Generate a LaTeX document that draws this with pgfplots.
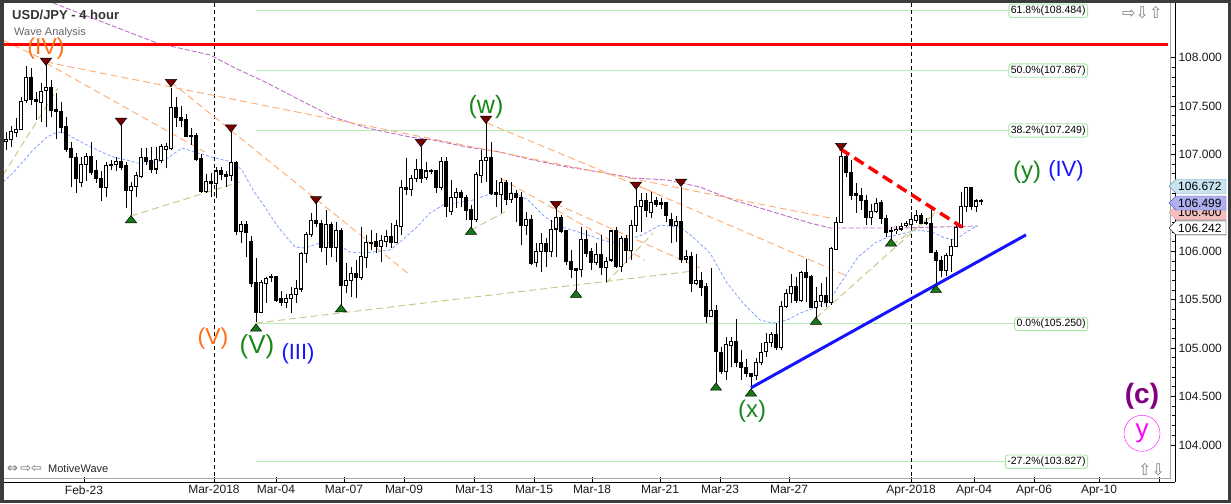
\documentclass[border=0pt]{standalone}
\usepackage{fontspec}
\setmainfont{Liberation Sans}
\newfontfamily\dejavu{DejaVu Sans}
\usepackage{pgfplots}
\pgfplotsset{compat=1.18}
\usepackage{pgfplotstable}

\definecolor{mworange}{RGB}{255,110,20}
\definecolor{mwgreen}{RGB}{25,135,25}
\definecolor{mwblue}{RGB}{20,20,255}
\definecolor{mwpurple}{RGB}{128,0,128}
\definecolor{mwmagenta}{RGB}{255,0,255}
\definecolor{fibgreen}{RGB}{180,238,180}
\definecolor{maline}{RGB}{130,160,255}
\definecolor{purpma}{RGB}{190,110,200}
\definecolor{trendor}{RGB}{255,170,110}
\definecolor{trendol}{RGB}{200,195,130}
\definecolor{topred}{RGB}{120,0,0}
\definecolor{botgreen}{RGB}{20,120,20}
\definecolor{framegray}{RGB}{60,60,60}
\newcommand{\fs}[1]{\fontsize{#1}{#1}\selectfont}

% 4-hour candles: x = bar position, o h l c
\pgfplotstableread{
x o h l c
6 107.13 107.23 107.05 107.16
11 107.15 107.29 107.08 107.24
16 107.23 107.38 107.18 107.26
21 107.26 107.59 107.25 107.55
26 107.56 107.91 107.53 107.80
31 107.80 107.89 107.51 107.57
36 107.57 107.65 107.36 107.55
41 107.54 107.74 107.34 107.65
46 107.66 107.92 107.28 107.69
51 107.69 107.77 107.39 107.45
56 107.46 107.64 107.16 107.44
61 107.44 107.54 107.22 107.28
66 107.29 107.39 107.03 107.05
71 107.06 107.13 106.66 106.97
76 106.97 107.02 106.60 106.75
81 106.71 106.97 106.66 106.90
86 106.90 107.02 106.73 106.98
91 106.98 107.13 106.79 106.81
96 106.84 106.94 106.71 106.75
101 106.75 106.83 106.52 106.66
106 106.66 106.92 106.56 106.89
111 106.90 106.94 106.84 106.89
116 106.90 106.97 106.83 106.93
121 106.93 107.30 106.84 106.87
126 106.89 106.92 106.45 106.63
131 106.63 106.72 106.37 106.67
136 106.67 106.82 106.56 106.78
141 106.77 107.07 106.76 106.97
146 106.97 107.07 106.89 106.93
151 106.94 107.08 106.81 106.85
156 106.85 107.08 106.80 106.95
161 106.94 107.11 106.91 107.08
166 107.05 107.12 106.86 107.08
171 107.06 107.69 107.05 107.49
176 107.49 107.59 107.28 107.38
181 107.38 107.50 107.28 107.35
186 107.36 107.42 107.18 107.19
191 107.20 107.27 107.10 107.19
196 107.20 107.22 106.93 106.95
201 106.96 107.01 106.60 106.62
206 106.62 106.80 106.60 106.72
211 106.72 106.81 106.56 106.70
216 106.70 106.87 106.55 106.83
221 106.83 106.87 106.74 106.79
226 106.79 106.83 106.66 106.77
231 106.78 107.23 106.73 106.92
236 106.92 106.93 106.17 106.20
241 106.20 106.31 106.09 106.28
246 106.28 106.31 105.94 106.19
251 106.10 106.16 105.63 105.67
256 105.68 105.93 105.27 105.37
261 105.37 105.70 105.36 105.68
266 105.67 105.73 105.47 105.72
271 105.74 105.77 105.68 105.73
276 105.74 105.74 105.48 105.49
281 105.51 105.59 105.44 105.47
286 105.47 105.56 105.41 105.51
291 105.51 105.63 105.36 105.55
296 105.55 105.70 105.47 105.62
301 105.61 105.99 105.58 105.98
306 105.98 106.20 105.88 106.17
311 106.17 106.40 106.15 106.32
316 106.32 106.50 106.25 106.29
321 106.29 106.32 105.99 106.04
326 106.04 106.43 105.86 106.28
331 106.28 106.30 105.94 106.04
336 106.04 106.30 105.89 106.22
341 106.22 106.24 105.45 105.65
346 105.65 105.88 105.57 105.70
351 105.70 105.84 105.53 105.77
356 105.77 105.91 105.52 105.73
361 105.73 106.25 105.70 105.95
366 105.94 106.17 105.83 106.09
371 106.09 106.22 106.01 106.08
376 106.10 106.19 105.98 106.05
381 106.05 106.17 105.89 106.11
386 106.10 106.22 106.04 106.15
391 106.15 106.29 106.03 106.09
396 106.09 106.32 106.09 106.27
401 106.26 106.74 106.17 106.66
406 106.66 106.96 106.58 106.64
411 106.64 106.79 106.57 106.75
416 106.75 106.95 106.72 106.85
421 106.85 107.08 106.71 106.75
426 106.76 106.92 106.74 106.83
431 106.83 106.85 106.80 106.82
436 106.83 106.84 106.60 106.66
441 106.66 106.97 106.63 106.93
446 106.93 106.97 106.35 106.46
451 106.41 106.74 106.37 106.56
456 106.56 106.65 106.45 106.61
461 106.61 106.63 106.46 106.56
466 106.56 106.58 106.32 106.42
471 106.43 106.48 106.24 106.33
476 106.33 106.82 106.30 106.79
481 106.78 107.05 106.71 106.94
486 106.94 107.35 106.72 106.97
491 106.97 107.13 106.58 106.60
496 106.61 106.74 106.46 106.59
501 106.59 106.76 106.40 106.71
506 106.71 106.74 106.48 106.53
511 106.53 106.72 106.50 106.60
516 106.60 106.63 106.30 106.56
521 106.56 106.61 106.07 106.27
526 106.27 106.41 106.17 106.33
531 106.33 106.37 105.86 105.87
536 105.88 106.09 105.84 106.00
541 106.00 106.19 105.79 106.08
546 106.08 106.14 105.84 106.00
551 106.00 106.32 105.94 106.23
556 106.23 106.46 105.94 106.35
561 106.35 106.37 106.19 106.20
566 106.22 106.22 105.86 105.89
571 105.89 106.01 105.72 105.81
576 105.82 105.82 105.60 105.80
581 105.81 106.25 105.73 106.12
586 106.12 106.22 105.94 105.98
591 106.00 106.03 105.81 105.88
596 105.88 106.09 105.86 105.97
601 105.97 106.17 105.76 105.83
606 105.83 105.94 105.68 105.90
611 105.91 106.22 105.89 106.21
616 106.21 106.25 105.83 105.84
621 105.84 106.16 105.79 106.13
626 106.13 106.17 105.88 106.01
631 106.01 106.32 105.91 106.27
636 106.27 106.65 106.20 106.46
641 106.46 106.60 106.20 106.53
646 106.53 106.60 106.35 106.42
651 106.40 106.61 106.34 106.50
656 106.53 106.56 106.46 106.48
661 106.50 106.55 106.44 106.48
666 106.50 106.51 106.30 106.37
671 106.33 106.40 106.09 106.27
676 106.27 106.36 106.10 106.31
681 106.31 106.66 105.88 105.92
686 105.92 106.01 105.88 105.95
691 105.95 105.99 105.58 105.67
696 105.67 105.97 105.65 105.70
701 105.70 105.79 105.54 105.63
706 105.64 105.67 105.26 105.33
711 105.33 105.83 105.32 105.39
716 105.39 105.45 104.64 104.96
721 104.96 105.01 104.73 104.76
726 104.76 105.11 104.67 105.04
731 105.03 105.11 104.80 105.07
736 105.07 105.30 104.80 104.85
741 104.85 104.98 104.67 104.80
746 104.80 104.89 104.70 104.74
751 104.74 104.74 104.58 104.71
756 104.72 104.90 104.67 104.85
761 104.85 105.05 104.83 104.96
766 104.96 105.16 104.91 105.06
771 105.06 105.17 105.01 105.14
776 105.14 105.26 104.98 105.01
781 105.01 105.49 104.98 105.43
786 105.43 105.61 105.41 105.56
791 105.56 105.77 105.47 105.64
796 105.64 105.73 105.47 105.49
801 105.49 105.80 105.48 105.78
806 105.78 105.92 105.48 105.73
811 105.74 105.76 105.41 105.42
816 105.42 105.63 105.31 105.48
821 105.48 105.67 105.42 105.54
826 105.54 105.73 105.42 105.47
831 105.47 106.04 105.45 106.03
836 106.02 106.35 106.01 106.30
841 106.30 107.07 106.29 106.98
846 106.98 107.02 106.77 106.81
851 106.81 106.94 106.53 106.58
856 106.60 106.71 106.40 106.58
861 106.58 106.65 106.43 106.52
866 106.53 106.58 106.27 106.35
871 106.35 106.49 106.27 106.41
876 106.41 106.55 106.40 106.49
881 106.50 106.53 106.28 106.34
886 106.34 106.37 106.15 106.19
891 106.21 106.25 106.12 106.20
896 106.21 106.26 106.18 106.23
901 106.23 106.29 106.21 106.26
906 106.27 106.31 106.25 106.29
911 106.28 106.41 106.22 106.33
916 106.32 106.43 106.29 106.37
921 106.37 106.40 106.28 106.29
926 106.30 106.34 106.27 106.29
931 106.29 106.45 105.98 105.99
936 105.99 106.01 105.66 105.90
941 105.91 105.95 105.73 105.80
946 105.80 105.98 105.74 105.96
951 105.96 106.13 105.79 106.05
956 106.05 106.27 106.04 106.25
961 106.25 106.61 106.25 106.46
966 106.46 106.66 106.41 106.66
971 106.66 106.66 106.43 106.46
976 106.46 106.54 106.41 106.52
981 106.52 106.54 106.48 106.51
}\candles

\begin{document}
\begin{tikzpicture}
\begin{axis}[
  width=1172pt, height=479pt, scale only axis,
  xmin=3, xmax=1175, ymin=103.617, ymax=108.565,
  axis x line*=bottom, axis y line*=right,
  axis line style={-, black, line width=1pt},
  clip=false,
  tick align=inside,
  major tick length=5pt, minor tick length=3pt,
  tick style={black, line width=0.8pt},
  xtick={84,214,276,344,404,474,534,592,660,720,789,911,974,1034,1099,1159},
  xticklabels={Feb-23,Mar-2018,Mar-04,Mar-07,Mar-09,Mar-13,Mar-15,Mar-18,Mar-21,Mar-23,Mar-27,Apr-2018,Apr-04,Apr-06,Apr-10,{}},
  ytick={104,104.5,...,108},
  minor y tick num=4,
  /pgf/number format/assume math mode=true,
  tick label style={font=\fs{12}, text=black!90},
  yticklabel style={/pgf/number format/.cd, fixed, fixed zerofill, precision=3},
]
\coordinate (bbTL) at (axis cs:0,108.596);
\coordinate (bbBR) at (axis cs:1231,103.400);

% fibonacci levels
\addplot[fibgreen, line width=1.1pt] coordinates {(256,108.484)(1088,108.484)};
\addplot[fibgreen, line width=1.1pt] coordinates {(256,107.867)(1088,107.867)};
\addplot[fibgreen, line width=1.1pt] coordinates {(256,107.249)(1088,107.249)};
\addplot[fibgreen, line width=1.1pt] coordinates {(256,105.250)(1088,105.250)};
\addplot[fibgreen, line width=1.1pt] coordinates {(256,103.827)(1088,103.827)};

% month separators
\addplot[black, line width=0.8pt, dash pattern=on 4pt off 3pt] coordinates {(214,108.565)(214,103.617)};
\addplot[black, line width=0.8pt, dash pattern=on 4pt off 3pt] coordinates {(911,108.565)(911,103.617)};

% moving averages
\addplot[purpma, line width=0.9pt, dash pattern=on 5pt off 2pt] coordinates {
(53,108.565)(157,108.152)(210,108.028)(233,107.904)(267,107.739)(300,107.563)(333,107.387)
(367,107.274)(410,107.181)(433,107.150)(467,107.077)(500,107.026)(533,106.943)(567,106.871)
(600,106.819)(633,106.757)(667,106.737)(700,106.664)(733,106.530)(767,106.426)(810,106.292)
(830,106.241)(900,106.241)(978,106.261)};
\addplot[maline, line width=0.8pt, dash pattern=on 3pt off 2pt] coordinates {
(3,106.716)(13,106.809)(33,107.046)(47,107.181)(58,107.232)(65,107.222)(77,107.150)(93,107.067)
(113,106.974)(127,106.943)(137,106.912)(150,106.912)(165,106.943)(182,107.067)(198,107.015)
(215,106.964)(232,106.922)(242,106.840)(253,106.633)(265,106.457)(278,106.251)(295,106.044)
(305,106.034)(322,106.096)(335,106.086)(350,105.993)(363,105.982)(390,106.013)(400,106.096)
(417,106.251)(430,106.395)(443,106.478)(457,106.499)(473,106.530)(487,106.581)(500,106.602)
(515,106.602)(528,106.530)(545,106.354)(562,106.251)(572,106.220)(588,106.168)(602,106.117)
(615,106.086)(628,106.117)(642,106.168)(660,106.271)(680,106.251)(693,106.148)(710,105.982)
(727,105.672)(743,105.466)(760,105.290)(773,105.259)(787,105.290)(800,105.362)(817,105.424)
(830,105.497)(838,105.631)(858,105.941)(875,106.086)(888,106.148)(905,106.189)(918,106.220)
(932,106.199)(945,106.137)(955,106.117)(965,106.189)(975,106.251)};

% trend lines
\addplot[trendor, line width=0.9pt, dash pattern=on 7pt off 4pt] coordinates {(3,108.18)(46,107.97)};
\addplot[trendor, line width=0.9pt, dash pattern=on 7pt off 4pt] coordinates {(46,107.955)(830,106.344)};
\addplot[trendor, line width=0.9pt, dash pattern=on 7pt off 4pt] coordinates {(46,107.945)(205,107.025)};
\addplot[trendor, line width=0.9pt, dash pattern=on 7pt off 4pt] coordinates {(171,107.749)(410,105.755)};
\addplot[trendor, line width=0.9pt, dash pattern=on 7pt off 4pt] coordinates {(487,107.325)(660,106.581)};
\addplot[trendor, line width=0.9pt, dash pattern=on 7pt off 4pt] coordinates {(500,106.756)(645,105.910)};
\addplot[trendor, line width=0.9pt, dash pattern=on 7pt off 4pt] coordinates {(556,106.489)(700,105.827)};
\addplot[trendor, line width=0.9pt, dash pattern=on 7pt off 4pt] coordinates {(636,106.685)(845,105.755)};
\addplot[trendol, line width=0.9pt, dash pattern=on 7pt off 4pt] coordinates {(3,106.788)(58,107.687)};
\addplot[trendol, line width=0.9pt, dash pattern=on 7pt off 4pt] coordinates {(131,106.365)(240,106.716)};
\addplot[trendol, line width=0.9pt, dash pattern=on 7pt off 4pt] coordinates {(256,105.259)(693,105.796)};
\addplot[trendol, line width=0.9pt, dash pattern=on 7pt off 4pt] coordinates {(471,106.220)(505,106.406)};
\addplot[trendol, line width=0.9pt, dash pattern=on 7pt off 4pt] coordinates {(606,105.672)(653,106.189)};
\addplot[trendol, line width=0.9pt, dash pattern=on 7pt off 4pt] coordinates {(816,105.311)(935,106.406)};
\addplot[trendol, line width=0.9pt, dash pattern=on 7pt off 4pt] coordinates {(892,106.065)(938,106.406)};

% resistance line
\addplot[red, line width=3pt] coordinates {(3,108.14)(1168,108.14)};

% candles: wicks, bodies, hollow up-bodies (vertical quiver segments)
\addplot[black, line width=1pt, mark=none, -, quiver={u=0, v=\thisrow{h}-\thisrow{l}}]
  table[x=x, y=l] {\candles};
\addplot[black, line width=3.4pt, mark=none, -, quiver={u=0, v=abs(\thisrow{c}-\thisrow{o})+0.01}]
  table[x=x, y expr={min(\thisrow{o},\thisrow{c})-0.005}] {\candles};
\addplot[white, line width=1.4pt, mark=none, -, restrict x to domain=0:2000, quiver={u=0, v=\thisrow{c}-\thisrow{o}-0.012}]
  table[x expr={\thisrow{c}-\thisrow{o}>0.013 ? \thisrow{x} : -100}, y expr={\thisrow{o}+0.006}] {\candles};

% swing markers
\addplot[only marks, mark=triangle*, mark size=6.5pt,
  mark options={rotate=180, yscale=0.75, fill=topred, draw=black, line width=0.5pt}]
  coordinates {(46,107.97)(121,107.35)(171,107.75)(231,107.28)(316,106.54)(421,107.13)(486,107.37)(556,106.49)(636,106.69)(681,106.72)(841,107.09)};
\addplot[only marks, mark=triangle*, mark size=6.5pt,
  mark options={yscale=0.75, fill=botgreen, draw=black, line width=0.5pt}]
  coordinates {(131,106.32)(256,105.20)(341,105.40)(471,106.20)(576,105.55)(716,104.59)(751,104.53)(816,105.27)(891,106.08)(936,105.60)};

% channel lines
\addplot[mwblue, line width=3pt] coordinates {(751,104.59)(1026,106.17)};
\addplot[red, line width=3.5pt, dash pattern=on 11pt off 6pt] coordinates {(840,107.06)(962,106.25)};

% fib labels
\tikzset{fiblab/.style={draw={rgb,255:red,165;green,230;blue,165}, line width=0.9pt, fill=white, rounded corners=2.5pt, inner xsep=2pt, inner ysep=1.8pt, font=\fs{10.5}, text=black, anchor=east}}
\node[fiblab] at (axis cs:1088,108.484) {61.8\%(108.484)};
\node[fiblab] at (axis cs:1088,107.867) {50.0\%(107.867)};
\node[fiblab] at (axis cs:1088,107.249) {38.2\%(107.249)};
\node[fiblab] at (axis cs:1088,105.250) {0.0\%(105.250)};
\node[fiblab] at (axis cs:1088,103.827) {-27.2\%(103.827)};

% wave labels
\node[text=mworange, font=\fs{23}] at (axis cs:46,108.09) {(IV)};
\node[text=mworange, font=\fs{23}] at (axis cs:213,105.10) {(V)};
\node[text=mwgreen, font=\fs{26}] at (axis cs:257,105.01) {(V)};
\node[text=mwblue, font=\fs{22}] at (axis cs:298,104.94) {(III)};
\node[text=mwgreen, font=\fs{25}] at (axis cs:486,107.49) {(w)};
\node[text=mwgreen, font=\fs{24}] at (axis cs:752,104.35) {(x)};
\node[text=mwgreen, font=\fs{24}] at (axis cs:1027,106.82) {(y)};
\node[text=mwblue, font=\fs{22}] at (axis cs:1066,106.83) {(IV)};
\node[text=mwpurple, font=\bfseries\fs{28}] at (axis cs:1142,104.50) {(c)};
\node[text=mwmagenta, draw=mwmagenta, circle, minimum size=36pt, inner sep=0pt, font=\fs{26}] at (axis cs:1142,104.12) {y};

% titles and watermark
\node[anchor=base west, inner sep=0, font=\bfseries\fs{13}, text=black!80] at (axis cs:12,108.39) {USD/JPY - 4 hour};
\node[anchor=base west, inner sep=0, font=\fs{11}, text=black!60] at (axis cs:14,108.23) {Wave Analysis};
\node[anchor=base west, inner sep=0, font=\fs{11}, text=black!85] at (axis cs:48,103.72) {MotiveWave};
\node[anchor=base west, inner sep=0, font=\dejavu\fs{13}, text=black!55] at (axis cs:7,103.715) {⇔\,⇨⇦};
\node[anchor=west, inner sep=0, font=\dejavu\fs{16}, text=black!50] at (axis cs:1122,108.47) {⇨⇩⇧};
\node[anchor=west, inner sep=0, font=\dejavu\fs{16}, text=black!50] at (axis cs:1138,103.74) {⇧⇩};

% frame pieces
\draw[black!35] (axis cs:3,103.658) -- (axis cs:1170,103.658) -- (axis cs:1170,108.565);

% price flags
\filldraw[fill={rgb,255:red,245;green,190;blue,190}, draw={rgb,255:red,220;green,150;blue,150}] (axis cs:1169,106.400) -- ++(7pt,7pt) -- ++(50pt,0pt) -- ++(0pt,-14pt) -- ++(-50pt,0pt) -- cycle;
\node[anchor=west, inner sep=0, font=\fs{12}] at (axis cs:1178,106.400) {106.400};
\filldraw[fill={rgb,255:red,176;green,176;blue,240}, draw={rgb,255:red,90;green,90;blue,190}] (axis cs:1169,106.499) -- ++(7pt,7pt) -- ++(50pt,0pt) -- ++(0pt,-14pt) -- ++(-50pt,0pt) -- cycle;
\node[anchor=west, inner sep=0, font=\fs{12}] at (axis cs:1178,106.499) {106.499};
\filldraw[fill={rgb,255:red,200;green,228;blue,240}, draw={rgb,255:red,110;green,150;blue,175}] (axis cs:1169,106.672) -- ++(7pt,7pt) -- ++(50pt,0pt) -- ++(0pt,-14pt) -- ++(-50pt,0pt) -- cycle;
\node[anchor=west, inner sep=0, font=\fs{12}] at (axis cs:1178,106.672) {106.672};
\filldraw[fill=white, draw=black] (axis cs:1169,106.242) -- ++(7pt,7pt) -- ++(50pt,0pt) -- ++(0pt,-14pt) -- ++(-50pt,0pt) -- cycle;
\node[anchor=west, inner sep=0, font=\fs{12}] at (axis cs:1178,106.242) {106.242};

\draw[framegray, line width=3.5pt] (axis cs:1.75,108.578) rectangle (axis cs:1229.25,103.418);
\end{axis}
\pgfresetboundingbox
\path[use as bounding box] (bbTL) rectangle (bbBR);
\end{tikzpicture}
\end{document}
